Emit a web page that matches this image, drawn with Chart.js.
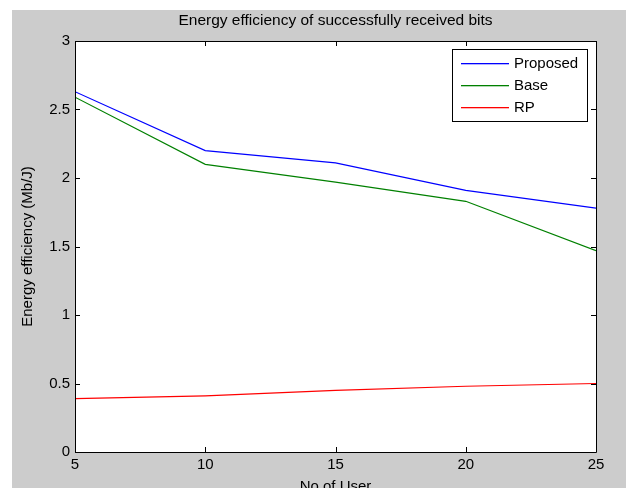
<!DOCTYPE html>
<html>
<head>
<meta charset="utf-8">
<script src="https://cdn.jsdelivr.net/npm/chart.js@4.4.0/dist/chart.umd.min.js"></script>
<style>
  html, body { margin: 0; padding: 0; background: #ffffff; }
  #wrap { width: 626px; height: 488px; }
</style>
</head>
<body>
<div id="wrap"><canvas id="c" width="626" height="488"></canvas></div>
<script>
const users = [5, 10, 15, 20, 25];
const proposed = [2.63, 2.20, 2.11, 1.91, 1.78];
const base = [2.59, 2.10, 1.97, 1.83, 1.47];
const rp = [0.39, 0.41, 0.45, 0.48, 0.50];
const seriesNames = ['Proposed', 'Base', 'RP'];
const seriesColors = ['#0000ff', '#008000', '#ff0000'];
const titleText = 'Energy efficiency of successfully received bits';
const xLabel = 'No of User';
const yLabel = 'Energy efficiency (Mb/J)';

const FONT = '"Liberation Sans", Arial, sans-serif';
const FS = 15;

const mk = (arr) => users.map((u, i) => ({x: u, y: arr[i]}));
const seriesData = [proposed, base, rp];

const framePlugin = {
  id: 'frame',
  beforeDraw(chart) {
    const ctx = chart.ctx;
    const a = chart.chartArea;
    ctx.save();
    ctx.fillStyle = '#cccccc';
    ctx.fillRect(12, 10, 626 - 12, 488 - 10);
    ctx.fillStyle = '#ffffff';
    ctx.fillRect(a.left, a.top, a.right - a.left, a.bottom - a.top);
    ctx.fillStyle = '#000000';
    ctx.font = '15.5px ' + FONT;
    ctx.textAlign = 'center';
    ctx.textBaseline = 'middle';
    ctx.fillText(titleText, (a.left + a.right) / 2, 21);
    ctx.restore();
  },
  afterDatasetsDraw(chart) {
    const ctx = chart.ctx;
    const a = chart.chartArea;
    const xs = chart.scales.x, ys = chart.scales.y;
    ctx.save();
    ctx.strokeStyle = '#000000';
    ctx.lineWidth = 1;
    ctx.beginPath();
    ctx.rect(Math.round(a.left) + 0.5, Math.round(a.top) + 0.5, Math.round(a.right - a.left), Math.round(a.bottom - a.top));
    ctx.stroke();
    const tl = 5;
    ctx.beginPath();
    xs.ticks.forEach(t => {
      const px = Math.round(xs.getPixelForValue(t.value)) + 0.5;
      ctx.moveTo(px, a.bottom); ctx.lineTo(px, a.bottom - tl);
      ctx.moveTo(px, a.top); ctx.lineTo(px, a.top + tl);
    });
    ys.ticks.forEach(t => {
      const py = Math.round(ys.getPixelForValue(t.value)) + 0.5;
      ctx.moveTo(a.left, py); ctx.lineTo(a.left + tl, py);
      ctx.moveTo(a.right, py); ctx.lineTo(a.right - tl, py);
    });
    ctx.stroke();

    // legend box
    const lx = 452.5, ly = 49.5, lw = 135, lh = 72;
    ctx.fillStyle = '#ffffff';
    ctx.fillRect(lx, ly, lw, lh);
    ctx.strokeStyle = '#000000';
    ctx.strokeRect(lx, ly, lw, lh);
    ctx.font = FS + 'px ' + FONT;
    ctx.textBaseline = 'middle';
    ctx.textAlign = 'left';
    seriesNames.forEach((name, i) => {
      const cy = 63 + i * 22;
      ctx.fillStyle = seriesColors[i];
      ctx.fillRect(461, cy, 48, 1.3);
      ctx.fillStyle = '#000000';
      ctx.fillText(name, 514, cy + 0.5);
    });
    ctx.restore();
  }
};

new Chart(document.getElementById('c'), {
  type: 'line',
  data: {
    datasets: seriesNames.map((n, i) => ({
      label: n,
      data: mk(seriesData[i]),
      borderColor: seriesColors[i],
      backgroundColor: seriesColors[i],
      borderWidth: 1.2,
      pointRadius: 0,
      tension: 0,
      fill: false
    }))
  },
  options: {
    responsive: false,
    animation: false,
    devicePixelRatio: 1,
    layout: { padding: { left: 0, top: 41, right: 30, bottom: 0 } },
    plugins: {
      legend: { display: false },
      tooltip: { enabled: false },
      title: { display: false }
    },
    scales: {
      x: {
        type: 'linear',
        min: 5, max: 25,
        grid: { display: false, drawTicks: false },
        border: { display: false },
        ticks: { stepSize: 5, color: '#000000', padding: 4, font: { family: FONT, size: FS } },
        title: { display: true, text: xLabel, color: '#000000', font: { family: FONT, size: FS }, padding: { top: 0, bottom: -8 } },
        afterFit(s) { s.height = 36; }
      },
      y: {
        min: 0, max: 3,
        grid: { display: false, drawTicks: false },
        border: { display: false },
        ticks: {
          stepSize: 0.5, color: '#000000', padding: 5, font: { family: FONT, size: FS },
          callback: (v) => String(Math.round(v * 10) / 10)
        },
        title: { display: true, text: yLabel, color: '#000000', font: { family: FONT, size: FS }, padding: { top: 19, bottom: 0 } },
        afterFit(s) { s.width = 75; }
      }
    }
  },
  plugins: [framePlugin]
});
</script>
</body>
</html>
